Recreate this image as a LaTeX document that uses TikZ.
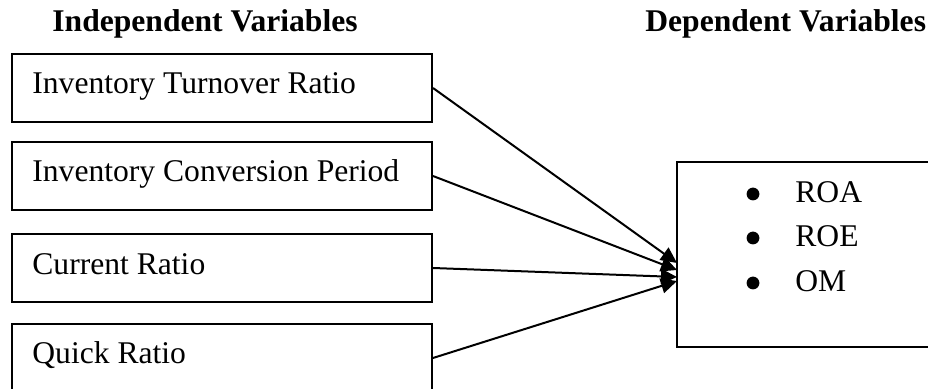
\documentclass[tikz,border=0pt]{standalone}
\usepackage{fontspec}
\setmainfont{Liberation Serif}
\usetikzlibrary{arrows.meta}
\begin{document}
\begin{tikzpicture}[x=0.5pt,y=-0.5pt,
  box/.style={draw,line width=1pt,rectangle,inner sep=0pt,minimum width=210pt,minimum height=34pt},
  lbl/.style={anchor=base west,inner sep=0pt,font=\fontsize{15.8pt}{18pt}\selectfont},
  ttl/.style={anchor=base west,inner sep=0pt,font=\fontsize{15.8pt}{18pt}\selectfont\bfseries},
  bul/.style={circle,fill=black,inner sep=0pt,minimum size=6.4pt},
  conn/.style={line width=1pt,-{Triangle[length=8pt,width=7.5pt]}}]
\useasboundingbox (0,0) rectangle (928,389);
\node[ttl] (t1) at (52,32) {Independent Variables};
\node[ttl] (t2) at (645,32) {Dependent Variables};
\node[box] (b1) at (222,88) {};
\node[box] (b2) at (222,176) {};
\node[box] (b3) at (222,268) {};
\node[box] (b4) at (222,358) {};
\node[lbl] (l1) at (32,94) {Inventory Turnover Ratio};
\node[lbl] (l2) at (32,182) {Inventory Conversion Period};
\node[lbl] (l3) at (32,275) {Current Ratio};
\node[lbl] (l4) at (32,364) {Quick Ratio};
\node[draw,line width=1pt,rectangle,inner sep=0pt,minimum width=140pt,minimum height=92.5pt] (r) at (817,254.5) {};
\node[bul] (d1) at (753,194) {};
\node[bul] (d2) at (753,238) {};
\node[bul] (d3) at (753,283) {};
\node[lbl] (o1) at (795,203) {ROA};
\node[lbl] (o2) at (795,247) {ROE};
\node[lbl] (o3) at (795,292) {OM};
\coordinate (e1) at (677,263);
\coordinate (e2) at (677,270);
\coordinate (e3) at (677,277);
\coordinate (e4) at (677,281);
\draw[conn] (b1.east) -- (e1);
\draw[conn] (b2.east) -- (e2);
\draw[conn] (b3.east) -- (e3);
\draw[conn] (b4.east) -- (e4);
\end{tikzpicture}
\end{document}
